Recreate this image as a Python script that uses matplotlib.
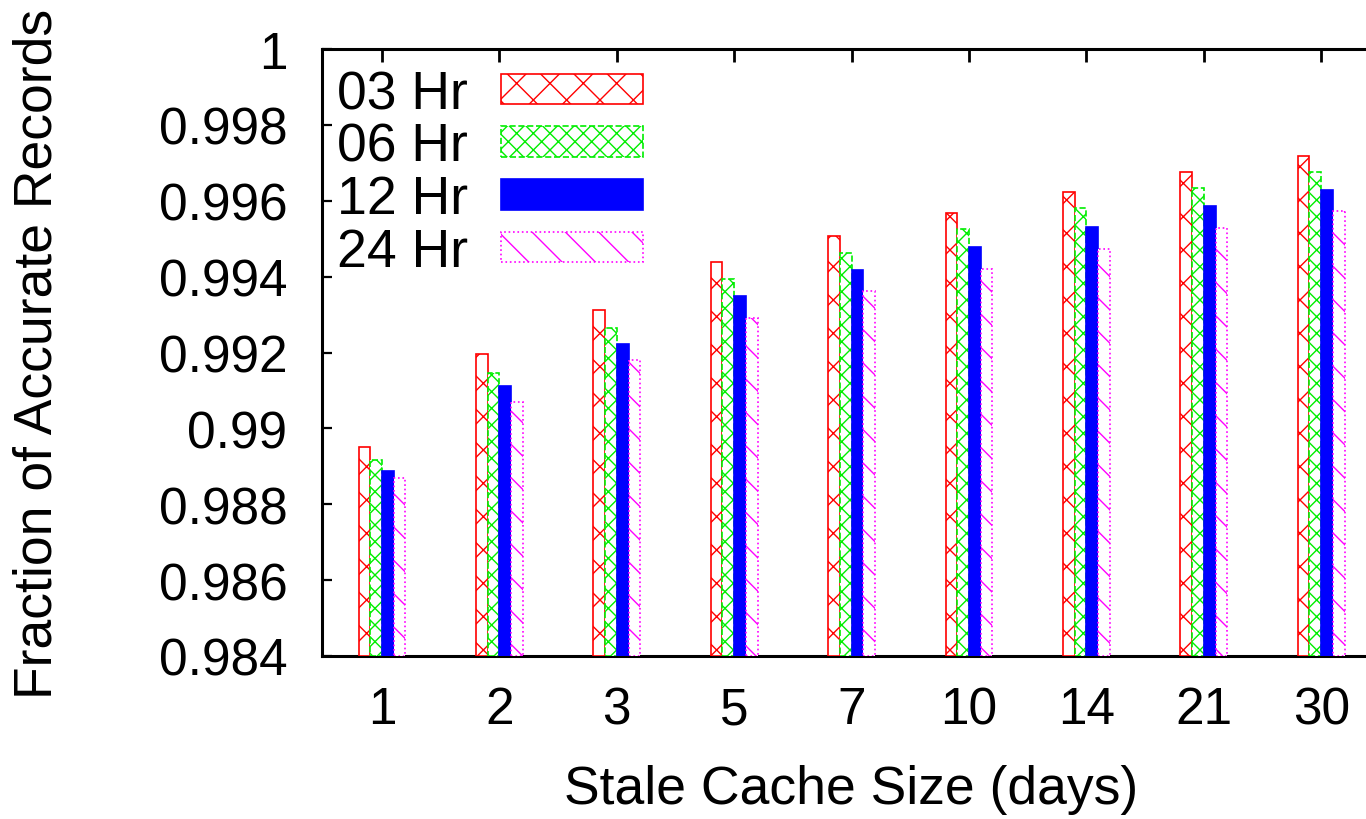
import matplotlib
matplotlib.use("Agg")
import matplotlib.pyplot as plt
import numpy as np

categories = ["1", "2", "3", "5", "7", "10", "14", "21", "30"]
series_names = ["03 Hr", "06 Hr", "12 Hr", "24 Hr"]
hr03 = [0.98952, 0.99195, 0.99312, 0.99438, 0.99506, 0.99569, 0.99622, 0.99676, 0.99718]
hr06 = [0.98916, 0.99147, 0.99264, 0.99393, 0.99461, 0.99525, 0.99580, 0.99634, 0.99677]
hr12 = [0.98888, 0.99112, 0.99222, 0.99348, 0.99417, 0.99477, 0.99530, 0.99586, 0.99629]
hr24 = [0.98868, 0.99070, 0.99179, 0.99290, 0.99361, 0.99419, 0.99472, 0.99527, 0.99572]
yticks = [0.984, 0.986, 0.988, 0.990, 0.992, 0.994, 0.996, 0.998, 1.0]
ytick_labels = ["0.984", "0.986", "0.988", "0.99", "0.992", "0.994", "0.996", "0.998", "1"]

plt.rcParams['font.family'] = ['Liberation Sans', 'DejaVu Sans']
plt.rcParams['hatch.linewidth'] = 1.0

W, H = 1366, 820
fig = plt.figure(figsize=(W / 100, H / 100), dpi=100)
ax_l, ax_r, ax_t, ax_b = 322, 1368, 50, 657
ax = fig.add_axes([ax_l / W, (H - ax_b) / H, (ax_r - ax_l) / W, (ax_b - ax_t) / H])

x = np.arange(len(categories))
bw = 0.1
styles = [
    dict(facecolor='white', edgecolor='#ff0000', hatch='x', linestyle='-'),
    dict(facecolor='white', edgecolor='#00ee00', hatch='xx', linestyle='--'),
    dict(facecolor='#0000ff', edgecolor='#0000ff', hatch=None, linestyle='-'),
    dict(facecolor='white', edgecolor='#ff00ff', hatch='\\', linestyle=':'),
]
data = [hr03, hr06, hr12, hr24]
offsets = [-1.5, -0.5, 0.5, 1.5]
handles = []
for vals, off, st, name in zip(data, offsets, styles, series_names):
    b = ax.bar(x + off * bw, np.array(vals) - 0.984, bottom=0.984, width=bw,
               linewidth=1.2, label=name, zorder=3, **st)
    handles.append(b)

ax.set_xlim(-60 / 117.4, (ax_r - 382) / 117.4)
ax.set_ylim(0.984, 1.0)
ax.set_yticks(yticks)
ax.set_yticklabels(ytick_labels)
ax.set_xticks(x)
ax.set_xticklabels(categories)

fs_tick = 37
fs_lab = 38.5
ax.tick_params(axis='y', which='both', direction='in', left=True, right=False,
               length=7, width=1.6, labelsize=fs_tick, pad=25)
ax.tick_params(axis='x', which='both', direction='in', bottom=False, top=True,
               length=9, width=2.0, labelsize=fs_tick, pad=21)
for s in ax.spines.values():
    s.set_linewidth(2.2)
    s.set_color('black')

ax.set_xlabel("Stale Cache Size (days)", fontsize=fs_lab, va='center')
ax.xaxis.set_label_coords((851 - ax_l) / (ax_r - ax_l), (ax_b - 790) / (ax_b - ax_t))
ax.set_ylabel("Fraction of Accurate Records", fontsize=fs_lab, va='center')
ax.yaxis.set_label_coords((38 - ax_l) / (ax_r - ax_l), 0.5)

fpx = fs_lab * 100 / 72
leg = ax.legend(handles=handles, loc='upper left',
                bbox_to_anchor=((337 - ax_l) / (ax_r - ax_l), (ax_b - 70) / (ax_b - ax_t)),
                frameon=False, markerfirst=False, fontsize=fs_lab,
                handlelength=142 / fpx, handleheight=27 / fpx,
                handletextpad=33 / fpx, labelspacing=0.05, borderpad=0,
                borderaxespad=0)

fig.savefig("out.png", dpi=100)
